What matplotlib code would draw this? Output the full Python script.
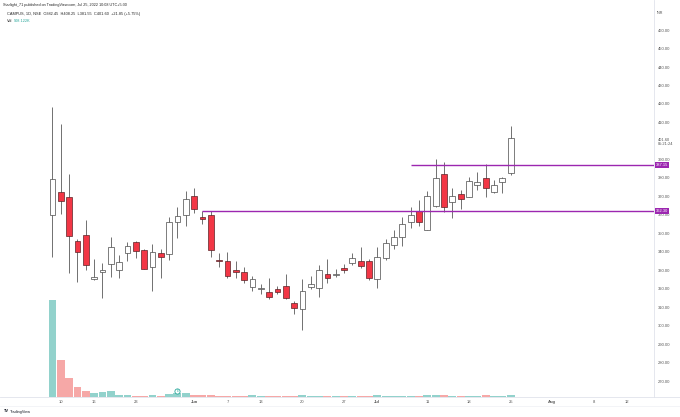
import matplotlib.pyplot as plt
import pandas as pd

# CAMPUS 1D NSE, 9 May 2022 -> 25 Jul 2022
opens = [359.9, 372.5, 369.8, 346.0, 349.2, 325.0, 329.0, 333.2, 330.1, 339.1,
         345.0, 341.1, 331.5, 339.3, 338.9, 355.9, 359.7, 370.0, 359.0, 359.9,
         335.4, 335.1, 330.1, 329.0, 320.7, 320.0, 318.2, 319.8, 321.4, 312.0,
         308.8, 320.7, 320.2, 327.9, 327.6, 331.4, 334.0, 335.1, 335.1, 325.0,
         336.8, 343.6, 348.1, 356.3, 362.2, 351.8, 364.9, 382.1, 367.1, 371.1,
         369.8, 376.1, 380.1, 372.5, 377.9, 382.45]
highs = [418.2, 409.0, 382.1, 346.8, 357.2, 335.9, 334.0, 348.1, 338.0, 345.4,
         346.0, 341.5, 344.2, 341.3, 358.6, 364.4, 372.9, 374.3, 362.2, 362.2,
         339.4, 340.0, 335.1, 331.9, 326.8, 322.5, 325.6, 321.4, 327.9, 313.5,
         325.0, 326.8, 332.8, 335.8, 330.5, 333.3, 339.4, 342.3, 336.0, 342.7,
         346.9, 351.8, 359.0, 364.0, 368.0, 373.1, 390.0, 388.7, 374.3, 373.4,
         380.6, 383.4, 387.5, 378.8, 380.2, 408.25]
lows = [337.3, 360.2, 328.3, 323.8, 330.1, 324.5, 314.8, 326.1, 325.6, 335.1,
        336.4, 330.5, 318.7, 325.6, 335.5, 347.6, 354.1, 360.7, 355.0, 337.0,
        331.5, 325.6, 325.6, 322.9, 318.9, 317.1, 314.2, 317.1, 314.5, 306.3,
        297.6, 319.6, 315.3, 323.2, 326.1, 328.6, 332.8, 331.0, 324.7, 320.2,
        335.5, 341.5, 343.3, 352.6, 354.1, 351.5, 364.0, 361.7, 358.0, 362.9,
        369.5, 373.4, 369.4, 371.6, 371.6, 381.55]
closes = [379.2, 367.6, 348.5, 340.0, 332.6, 326.5, 330.1, 342.3, 334.2, 343.1,
          340.4, 330.8, 339.8, 337.3, 355.9, 359.1, 368.3, 362.9, 357.9, 340.9,
          335.0, 326.8, 329.0, 324.7, 325.0, 320.4, 315.3, 318.0, 314.8, 309.7,
          318.9, 322.3, 330.1, 325.6, 328.2, 330.1, 336.4, 332.3, 325.6, 337.0,
          344.9, 348.1, 354.8, 359.9, 355.9, 370.2, 380.1, 364.0, 370.2, 368.3,
          378.1, 377.9, 374.3, 376.1, 379.75, 401.60]
# volume in millions
volumes = [43.6, 16.7, 8.5, 4.5, 2.4, 1.7, 2.0, 2.7, 0.8, 0.9,
           0.45, 0.35, 0.9, 0.35, 1.2, 1.5, 1.8, 0.9, 0.6, 0.6,
           0.45, 0.45, 0.35, 0.35, 0.6, 0.3, 0.4, 0.3, 0.5, 0.4,
           0.6, 0.3, 0.4, 0.3, 0.3, 0.3, 0.4, 0.4, 0.5, 0.6,
           0.5, 0.5, 0.5, 0.4, 0.5, 0.6, 0.8, 0.8, 0.4, 0.4,
           0.5, 0.5, 0.6, 0.4, 0.4, 0.908]

tick_dates = ["2022-05-10", "2022-05-16", "2022-05-23", "2022-06-01", "2022-06-07",
              "2022-06-13", "2022-06-20", "2022-06-27", "2022-07-01", "2022-07-11",
              "2022-07-18", "2022-07-25", "2022-08-01", "2022-08-08", "2022-08-12"]
tick_labels = ["10", "16", "23", "Jun", "7", "13", "20", "27", "Jul", "11",
               "18", "25", "Aug", "8", "12"]
price_ticks = [270, 280, 290, 300, 310, 320, 330, 340, 350, 360,
               370, 380, 390, 410, 420, 430, 440, 450, 460]
levels = [387.15, 362.30]
level_start = [43, 18]
earnings_idx = 15

sessions = pd.bdate_range("2022-05-09", "2022-08-31")
pos = {d.strftime("%Y-%m-%d"): i for i, d in enumerate(sessions)}

W, H = 680, 417
fig = plt.figure(figsize=(W / 100, H / 100), dpi=100)
plt.rcParams['font.family'] = ['Liberation Sans', 'DejaVu Sans']

def fx(px):
    return px / W

def fy(py):
    return 1 - py / H

rect = [0, fy(396.7), fx(654), fy(0) - fy(396.7)]
axv = fig.add_axes(rect)
ax = fig.add_axes(rect)
ax.patch.set_visible(False)

n = len(closes)
xs = list(range(n))
x_lo, x_hi = -6.3, 72.2

teal = "#26a69a"
red = "#ef5350"
vcols = [teal if c >= o else red for o, c in zip(opens, closes)]
axv.bar(xs, volumes, width=0.95, color=vcols, alpha=0.5, linewidth=0)
axv.set_xlim(x_lo, x_hi)
axv.set_ylim(0, 178.9)
axv.axis("off")

# earnings marker
axv.scatter([earnings_idx], [2.4], s=14, facecolor="white", edgecolor=teal, linewidth=0.6, zorder=4)
axv.text(earnings_idx, 2.4, "E", fontsize=2.2, color=teal, ha="center", va="center", zorder=5)

# candles
for i in xs:
    o, h, l, c = opens[i], highs[i], lows[i], closes[i]
    up = c >= o
    ax.vlines(i, l, h, color="#5a5a5a", linewidth=0.6, zorder=2)
    body = max(abs(c - o), 0.35)
    ax.bar(i, body, bottom=min(o, c), width=0.7,
           color="white" if up else "#f23645",
           edgecolor="#4a4a4a" if up else "#5b2328", linewidth=0.5, zorder=3)

purple = "#9c27b0"
for lv, st in zip(levels, level_start):
    ax.hlines(lv, st, x_hi, colors=purple, linewidth=1.0, zorder=4)
    ax.text(1.003, lv, f"{lv:.2f}", transform=ax.get_yaxis_transform(),
            fontsize=2.9, color="white", ha="left", va="center", zorder=6,
            clip_on=False,
            bbox=dict(boxstyle="square,pad=0.25", facecolor=purple, edgecolor="none"))

ax.set_xlim(x_lo, x_hi)
ax.set_ylim(261.5, 476.3)
ax.yaxis.tick_right()
ax.set_yticks(price_ticks)
ax.set_yticklabels([f"{p:.2f}" for p in price_ticks])
ax.set_xticks([pos[d] for d in tick_dates])
ax.set_xticklabels(tick_labels)
for lab in ax.get_xticklabels():
    if lab.get_text() in ("Jun", "Jul", "Aug"):
        lab.set_fontweight("bold")
ax.tick_params(axis="both", length=0, labelsize=3.0, colors="#555555")
ax.tick_params(axis="y", pad=3)
ax.tick_params(axis="x", pad=2.5)
for s in ["top", "left"]:
    ax.spines[s].set_visible(False)
ax.spines["right"].set_color("#e0e3eb")
ax.spines["bottom"].set_color("#e0e3eb")
ax.spines["right"].set_linewidth(0.6)
ax.spines["bottom"].set_linewidth(0.6)

# last price + countdown
ax.text(1.006, closes[-1], "401.60\n05:21:24", transform=ax.get_yaxis_transform(),
        fontsize=2.9, color="#555555", ha="left", va="top", linespacing=1.1,
        clip_on=False, zorder=6)
fig.text(fx(657), fy(13), "INR", fontsize=2.7, color="#555555", va="center")

fig.add_artist(plt.Line2D([fx(654), 1], [fy(396.7), fy(396.7)], color="#e0e3eb", linewidth=0.6))
fig.add_artist(plt.Line2D([0, 1], [fy(405.5), fy(405.5)], color="#eef0f4", linewidth=0.5))

# header / legend
fig.text(fx(3), fy(5), "Starlight_71 published on TradingView.com, Jul 25, 2022 10:08 UTC+5:30",
         fontsize=2.7, color="#222222", va="center")
fig.text(fx(6.5), fy(14), "CAMPUS, 1D, NSE  O382.45  H408.25  L381.55  C401.60  +21.85 (+5.75%)",
         fontsize=2.8, color="#222222", va="center")
fig.text(fx(6.5), fy(21), "Vol", fontsize=2.8, color="#222222", va="center")
fig.text(fx(14), fy(21), "908.122K", fontsize=2.8, color=teal, va="center")
fig.text(fx(3), fy(411.5), "TV", fontsize=2.9, color="#131722", va="center", fontweight="bold")
fig.text(fx(10), fy(411.5), "TradingView", fontsize=2.7, color="#131722", va="center")

fig.savefig("out.png", dpi=100)
